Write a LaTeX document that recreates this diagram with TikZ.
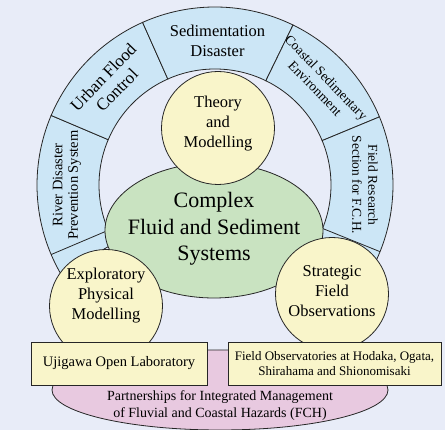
\documentclass[tikz,border=0pt]{standalone}
\usepackage{fontspec}
\setmainfont{Liberation Serif}
\usepackage{xcolor}
\usepackage{tikz}
\usetikzlibrary{shapes.geometric}

\definecolor{bgcol}{HTML}{E8ECF8}
\definecolor{ringblue}{HTML}{CCE6F6}
\definecolor{hubyellow}{HTML}{F9F5CA}
\definecolor{coregreen}{HTML}{C9E3C1}
\definecolor{partpink}{HTML}{E8C9E0}

\begin{document}
\begin{tikzpicture}[x=1pt, y=1pt,
    seg/.style={draw=black!85, fill=ringblue, line width=0.8pt},
    segtext/.style={align=center, inner sep=0pt},
    hub/.style={circle, draw=black!85, fill=hubyellow, line width=0.8pt, minimum size=113pt, inner sep=0pt},
    hubtext/.style={align=center, inner sep=0pt, font=\fontsize{16.5}{20}\selectfont},
    site/.style={draw=black!85, fill=hubyellow, line width=0.8pt, minimum height=43pt, inner sep=0pt, align=center}]

    % background
    \fill[bgcol] (0,0) rectangle (445,430);
    \useasboundingbox (0,0) rectangle (445,430);

    \coordinate (O) at (215,245);

    % outer ring
    \draw[seg] ([shift={(157:178pt)}]O) arc[start angle=157, end angle=210, radius=178pt]
        -- ([shift={(210:116pt)}]O) arc[start angle=210, end angle=157, radius=116pt] -- cycle;
    \draw[seg] ([shift={(114:178pt)}]O) arc[start angle=114, end angle=157, radius=178pt]
        -- ([shift={(157:116pt)}]O) arc[start angle=157, end angle=114, radius=116pt] -- cycle;
    \draw[seg] ([shift={(64:178pt)}]O) arc[start angle=64, end angle=114, radius=178pt]
        -- ([shift={(114:116pt)}]O) arc[start angle=114, end angle=64, radius=116pt] -- cycle;
    \draw[seg] ([shift={(22.5:178pt)}]O) arc[start angle=22.5, end angle=64, radius=178pt]
        -- ([shift={(64:116pt)}]O) arc[start angle=64, end angle=22.5, radius=116pt] -- cycle;
    \draw[seg] ([shift={(-30:178pt)}]O) arc[start angle=-30, end angle=22.5, radius=178pt]
        -- ([shift={(22.5:116pt)}]O) arc[start angle=22.5, end angle=-30, radius=116pt] -- cycle;
    \draw[black!85, line width=0.8pt] ([shift={(203:116pt)}]O) -- ([shift={(203:178pt)}]O);
    \draw[black!85, line width=0.8pt] ([shift={(-22:116pt)}]O) -- ([shift={(-22:178pt)}]O);

    \node[segtext, font=\fontsize{14.5}{15.5}\selectfont, rotate=90] (river) at ([shift={(180:148pt)}]O) {River Disaster\\Prevention System};
    \node[segtext, font=\fontsize{17}{19}\selectfont, rotate=46] (urban) at ([shift={(136:146pt)}]O) {Urban Flood\\Control};
    \node[segtext, font=\fontsize{16.5}{20}\selectfont] (sedi) at ([shift={(89:144pt)}]O) {Sedimentation\\Disaster};
    \node[segtext, font=\fontsize{13.5}{15.5}\selectfont, rotate=-46] (coast) at ([shift={(44:147pt)}]O) {Coastal Sedimentary\\Environment};
    \node[segtext, font=\fontsize{13.5}{16}\selectfont, rotate=-90] (fieldres) at ([shift={(0:150pt)}]O) {Field Research\\Section for F.C.H.};

    % core
    \node[ellipse, draw=black!85, fill=coregreen, line width=0.8pt, minimum width=218pt, minimum height=135pt,
        inner sep=0pt] (core) at (214,199.5) {};
    \node[align=center, inner sep=0pt, font=\fontsize{22}{26.5}\selectfont] (coretext) at (214,201)
        {Complex\\Fluid and Sediment\\Systems};

    % three approaches
    \node[hub] (theory) at (218,302) {};
    \node[hubtext] (theorytext) at (218,306.5) {Theory\\and\\Modelling};
    \node[hub] (explo) at (106,124) {};
    \node[hubtext] (explotext) at (106,134) {Exploratory\\Physical\\Modelling};
    \node[hub] (strat) at (332,136) {};
    \node[hubtext] (strattext) at (332,139) {Strategic\\Field\\Observations};

    % partnerships
    \node[ellipse, draw=black!85, fill=partpink, line width=0.8pt, minimum width=336pt, minimum height=80pt] (fch) at (220,40) {};
    \node[align=center, inner sep=0pt, font=\fontsize{14}{17}\selectfont] (fchtext) at (220,24)
        {Partnerships for Integrated Management\\of Fluvial and Coastal Hazards (FCH)};

    \node[site, minimum width=176pt, font=\fontsize{14.5}{17}\selectfont] (uji) at (119,66.5) {Ujigawa Open Laboratory};
    \node[site, minimum width=213pt, font=\fontsize{13}{15}\selectfont] (fieldobs) at (334.5,66.5)
        {Field Observatories at Hodaka, Ogata,\\Shirahama and Shionomisaki};
\end{tikzpicture}
\end{document}
